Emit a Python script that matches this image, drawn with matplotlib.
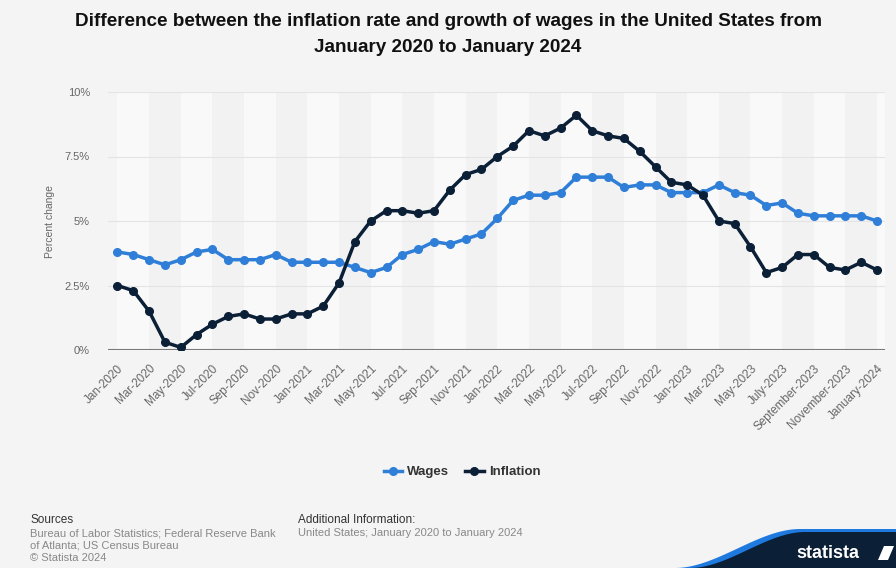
import matplotlib
matplotlib.use("Agg")
import matplotlib.pyplot as plt
import numpy as np
from matplotlib.patches import Polygon

plt.rcParams['font.family'] = ['Liberation Sans', 'DejaVu Sans']

months = ["Jan-2020", "Feb-2020", "Mar-2020", "Apr-2020", "May-2020", "Jun-2020", "Jul-2020", "Aug-2020",
          "Sep-2020", "Oct-2020", "Nov-2020", "Dec-2020",
          "Jan-2021", "Feb-2021", "Mar-2021", "Apr-2021", "May-2021", "Jun-2021", "Jul-2021", "Aug-2021",
          "Sep-2021", "Oct-2021", "Nov-2021", "Dec-2021",
          "Jan-2022", "Feb-2022", "Mar-2022", "Apr-2022", "May-2022", "Jun-2022", "Jul-2022", "Aug-2022",
          "Sep-2022", "Oct-2022", "Nov-2022", "Dec-2022",
          "Jan-2023", "Feb-2023", "Mar-2023", "Apr-2023", "May-2023", "June-2023", "July-2023", "August-2023",
          "September-2023", "October-2023", "November-2023", "December-2023", "January-2024"]

wages = [3.8, 3.7, 3.5, 3.3, 3.5, 3.8, 3.9, 3.5, 3.5, 3.5, 3.7, 3.4,
         3.4, 3.4, 3.4, 3.2, 3.0, 3.2, 3.7, 3.9, 4.2, 4.1, 4.3, 4.5,
         5.1, 5.8, 6.0, 6.0, 6.1, 6.7, 6.7, 6.7, 6.3, 6.4, 6.4, 6.1,
         6.1, 6.1, 6.4, 6.1, 6.0, 5.6, 5.7, 5.3, 5.2, 5.2, 5.2, 5.2, 5.0]

inflation = [2.5, 2.3, 1.5, 0.3, 0.1, 0.6, 1.0, 1.3, 1.4, 1.2, 1.2, 1.4,
             1.4, 1.7, 2.6, 4.2, 5.0, 5.4, 5.4, 5.3, 5.4, 6.2, 6.8, 7.0,
             7.5, 7.9, 8.5, 8.3, 8.6, 9.1, 8.5, 8.3, 8.2, 7.7, 7.1, 6.5,
             6.4, 6.0, 5.0, 4.9, 4.0, 3.0, 3.2, 3.7, 3.7, 3.2, 3.1, 3.4, 3.1]

yticks = [0, 2.5, 5, 7.5, 10]
ytick_labels = ["0%", "2.5%", "5%", "7.5%", "10%"]

bg = "#f4f4f4"
wage_color = "#2f7ed8"
infl_color = "#0b1f36"

fig = plt.figure(figsize=(8.96, 5.68), dpi=100, facecolor=bg)
ax = fig.add_axes([108/896, 1-350/568, 777/896, 258/568])
ax.set_facecolor(bg)

x = np.arange(len(months))
# alternating vertical bands
for i in range(0, len(months) - 1, 2):
    col = "#f9f9f9" if (i // 2) % 2 == 0 else "#f2f2f2"
    ax.axvspan(i, i + 2, color=col, zorder=0, lw=0)
ax.axvspan(48, 48.5, color="#f9f9f9", zorder=0, lw=0)

for yv in yticks[1:]:
    ax.axhline(yv, color="#e4e4e4", lw=0.8, zorder=1)
ax.axhline(0, color="#7a7a7a", lw=1.5, zorder=2)

ax.plot(x, wages, color=wage_color, lw=2.5, marker="o", ms=5.5, zorder=4, label="Wages")
ax.plot(x, inflation, color=infl_color, lw=2.5, marker="o", ms=5.5, zorder=5, label="Inflation")

ax.set_xlim(-0.6, 48.5)
ax.set_ylim(0, 10)
ax.set_yticks(yticks)
ax.set_yticklabels(ytick_labels, fontsize=8, color="#666666")
ax.set_xticks(x[::2])
ax.set_xticklabels(months[::2], rotation=45, ha="right", rotation_mode="anchor",
                   fontsize=8.5, color="#666666")
ax.tick_params(axis="x", length=0, pad=9)
ax.tick_params(axis="y", length=0, pad=13)
for s in ax.spines.values():
    s.set_visible(False)
ax.set_ylabel("Percent change", fontsize=7.5, color="#666666")
ax.yaxis.set_label_coords(-0.068, 0.5)

fig.text(0.5, 1-22/568, "Difference between the inflation rate and growth of wages in the United States from",
         ha="center", va="center", fontsize=13.6, fontweight="bold", color="#111111")
fig.text(0.5, 1-47/568, "January 2020 to January 2024",
         ha="center", va="center", fontsize=13.6, fontweight="bold", color="#111111")

leg = fig.legend(loc="center", bbox_to_anchor=(462/896, 1-472/568), ncol=2, frameon=False,
                 handlelength=1.4, columnspacing=1.2, handletextpad=0.4,
                 prop={"weight": "bold", "size": 9.5})
for t in leg.get_texts():
    t.set_color("#333333")

fig.text(30/896, 1-520/568, "Sources", fontsize=8.5, color="#333333", va="center")
fig.text(30/896, 1-533/568, "Bureau of Labor Statistics; Federal Reserve Bank", fontsize=8, color="#888888", va="center")
fig.text(30/896, 1-545/568, "of Atlanta; US Census Bureau", fontsize=8, color="#888888", va="center")
fig.text(30/896, 1-558/568, "\u00a9 Statista 2024", fontsize=8, color="#888888", va="center")
fig.text(298/896, 1-520/568, "Additional Information:", fontsize=8.5, color="#333333", va="center")
fig.text(298/896, 1-533/568, "United States; January 2020 to January 2024", fontsize=8, color="#888888", va="center")

# statista logo approximation
fig_ax = fig.add_axes([0, 0, 1, 1], zorder=-1)
fig_ax.set_xlim(0, 896)
fig_ax.set_ylim(568, 0)
fig_ax.axis("off")
xs = np.linspace(675, 896, 80)
def curve(xx, x0, x1, h):
    t = np.clip((xx - x0) / (x1 - x0), 0, 1)
    s = t * t * (3 - 2 * t)
    return 568 - h * s
blue_top = list(zip(xs, curve(xs, 675, 800, 39)))
navy_top = list(zip(xs, curve(xs, 690, 805, 36)))
fig_ax.add_patch(Polygon(blue_top + [(896, 568)], closed=True, color="#1f7ae0", lw=0))
fig_ax.add_patch(Polygon(navy_top + [(896, 568)], closed=True, color="#0b1f36", lw=0))
fig.text(828/896, 1-553/568, "statista", fontsize=13, fontweight="bold", color="white",
         ha="center", va="center")
fig_ax.add_patch(Polygon([(878, 560), (884, 546), (894, 546), (888, 560)], closed=True,
                         color="white", lw=0))

fig.savefig("out.png", dpi=100, facecolor=bg)
